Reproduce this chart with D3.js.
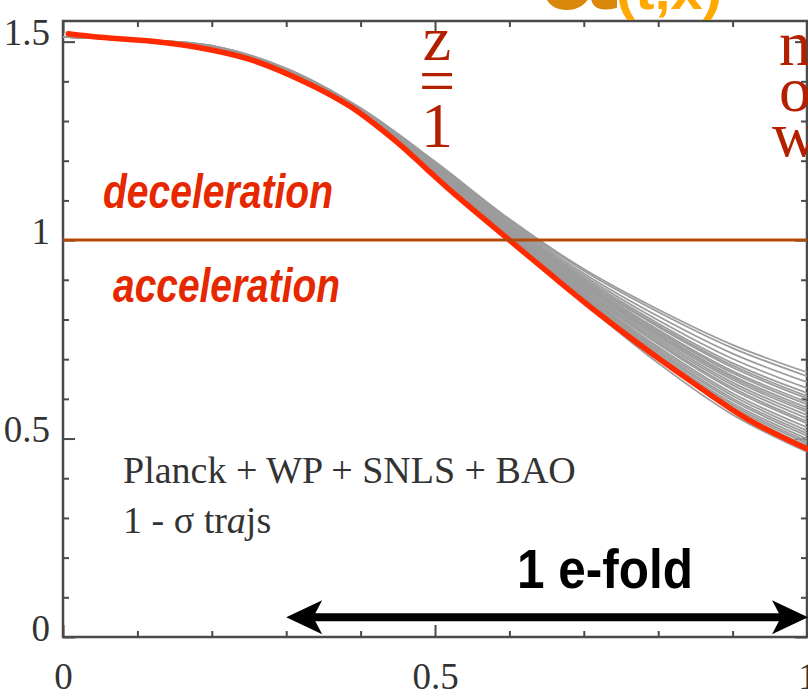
<!DOCTYPE html>
<html>
<head>
<meta charset="utf-8">
<script src="https://cdn.jsdelivr.net/npm/d3@7"></script>
<style>
  html, body { margin: 0; padding: 0; background: #fff; overflow: hidden; }
  svg { display: block; }
</style>
</head>
<body>
<div id="container"></div>
<script>
// best-fit trajectory (red)
const bestX = [0.007, 0.05, 0.12, 0.18, 0.25, 0.32, 0.385, 0.45, 0.49, 0.53, 0.6, 0.655, 0.72, 0.79, 0.855, 0.92, 1];
const bestY = [1.52, 1.511, 1.501, 1.486, 1.456, 1.403, 1.338, 1.245, 1.177, 1.110, 1.0, 0.914, 0.815, 0.716, 0.63, 0.549, 0.474];

// 1-sigma trajectories (grey), sampled on xGrid
const xGrid = [0, 0.1, 0.2, 0.3, 0.4, 0.5, 0.6, 0.7, 0.8, 0.9, 1];
const trajs = [
  [1.512, 1.505, 1.490, 1.433, 1.333, 1.198, 1.053, 0.927, 0.825, 0.736, 0.667],
  [1.512, 1.505, 1.490, 1.432, 1.332, 1.196, 1.050, 0.923, 0.819, 0.728, 0.657],
  [1.512, 1.505, 1.489, 1.431, 1.331, 1.194, 1.046, 0.916, 0.808, 0.714, 0.642],
  [1.512, 1.505, 1.488, 1.430, 1.330, 1.191, 1.042, 0.910, 0.798, 0.701, 0.627],
  [1.512, 1.504, 1.488, 1.429, 1.329, 1.189, 1.039, 0.905, 0.790, 0.690, 0.615],
  [1.512, 1.504, 1.487, 1.428, 1.328, 1.187, 1.037, 0.901, 0.785, 0.684, 0.607],
  [1.512, 1.504, 1.487, 1.428, 1.328, 1.186, 1.035, 0.899, 0.781, 0.679, 0.601],
  [1.512, 1.504, 1.487, 1.427, 1.327, 1.185, 1.032, 0.895, 0.774, 0.670, 0.592],
  [1.512, 1.504, 1.486, 1.427, 1.326, 1.184, 1.031, 0.892, 0.770, 0.665, 0.586],
  [1.512, 1.504, 1.486, 1.426, 1.326, 1.182, 1.029, 0.889, 0.765, 0.658, 0.578],
  [1.512, 1.504, 1.486, 1.426, 1.325, 1.181, 1.027, 0.886, 0.761, 0.653, 0.572],
  [1.512, 1.504, 1.485, 1.425, 1.325, 1.180, 1.025, 0.884, 0.757, 0.648, 0.567],
  [1.512, 1.504, 1.485, 1.425, 1.324, 1.179, 1.023, 0.881, 0.752, 0.641, 0.559],
  [1.512, 1.504, 1.485, 1.424, 1.323, 1.178, 1.021, 0.877, 0.747, 0.635, 0.551],
  [1.512, 1.504, 1.484, 1.423, 1.323, 1.176, 1.019, 0.874, 0.742, 0.628, 0.543],
  [1.512, 1.504, 1.484, 1.423, 1.322, 1.175, 1.018, 0.871, 0.738, 0.623, 0.538],
  [1.512, 1.504, 1.484, 1.422, 1.321, 1.174, 1.015, 0.867, 0.731, 0.614, 0.528],
  [1.512, 1.504, 1.483, 1.422, 1.321, 1.172, 1.013, 0.864, 0.726, 0.608, 0.520],
  [1.512, 1.503, 1.483, 1.421, 1.320, 1.171, 1.011, 0.861, 0.721, 0.601, 0.513],
  [1.512, 1.503, 1.483, 1.421, 1.320, 1.170, 1.009, 0.858, 0.717, 0.596, 0.507],
  [1.512, 1.503, 1.482, 1.420, 1.319, 1.168, 1.007, 0.855, 0.712, 0.589, 0.499],
  [1.512, 1.503, 1.482, 1.420, 1.319, 1.167, 1.005, 0.852, 0.708, 0.584, 0.493],
  [1.512, 1.503, 1.482, 1.419, 1.318, 1.166, 1.004, 0.850, 0.704, 0.579, 0.488],
  [1.512, 1.503, 1.481, 1.419, 1.318, 1.165, 1.002, 0.847, 0.700, 0.574, 0.482],
  [1.512, 1.503, 1.481, 1.417, 1.316, 1.163, 0.998, 0.841, 0.690, 0.560, 0.466],
];

// ticks
const xTicks = [0, 0.1, 0.2, 0.3, 0.4, 0.5, 0.6, 0.7, 0.8, 0.9, 1];
const yTicks = [0, 0.1, 0.2, 0.3, 0.4, 0.5, 0.6, 0.7, 0.8, 0.9, 1, 1.1, 1.2, 1.3, 1.4, 1.5];
const xMajor = [0, 0.5, 1];
const xLabels = ['0', '0.5', '1'];
const yMajor = [0, 0.5, 1, 1.5];
const yLabels = ['0', '0.5', '1', '1.5'];

// annotations
const eFold = [0.3, 1];
const eFoldY = 0.05;

const width = 808;
const height = 696;

const x = d3.scaleLinear().domain([0, 1]).range([63, 807]);
const y = d3.scaleLinear().domain([0, 1.552]).range([637, 21]);

const svg = d3
  .select('#container')
  .append('svg')
  .attr('width', width)
  .attr('height', height);

const serif = '"Liberation Serif", "Times New Roman", serif';
const sans = '"Liberation Sans", Arial, sans-serif';
const axisColor = '#4a4a4a';

const isMajor = (list, d) => list.some(m => Math.abs(m - d) < 1e-9);
const labelOf = (list, labels, d) => {
  const i = list.findIndex(m => Math.abs(m - d) < 1e-9);
  return i < 0 ? '' : labels[i];
};

function styleAxis(g, majors, vertical) {
  g.select('.domain').remove();
  g.selectAll('.tick line')
    .attr('stroke', axisColor)
    .attr('stroke-width', 2)
    .attr(vertical ? 'x2' : 'y2', function (d) {
      const v = +d3.select(this).attr(vertical ? 'x2' : 'y2');
      return isMajor(majors, d) ? v * 2 : v;
    });
  g.attr('font-family', serif).attr('font-size', 37);
  g.selectAll('.tick text').attr('fill', '#333');
}

// bottom
svg.append('g')
  .attr('transform', `translate(0,${y(0)})`)
  .call(d3.axisBottom(x).tickValues(xTicks).tickSize(-6)
    .tickFormat(d => labelOf(xMajor, xLabels, d)))
  .call(g => styleAxis(g, xMajor, false))
  .call(g => g.selectAll('.tick text').attr('y', 52).attr('dy', 0));

// top
svg.append('g')
  .attr('transform', `translate(0,${y.range()[1]})`)
  .call(d3.axisTop(x).tickValues(xTicks).tickSize(-6).tickFormat(''))
  .call(g => styleAxis(g, xMajor, false));

// left
svg.append('g')
  .attr('transform', `translate(${x(0)},0)`)
  .call(d3.axisLeft(y).tickValues(yTicks).tickSize(-6)
    .tickFormat(d => labelOf(yMajor, yLabels, d)))
  .call(g => styleAxis(g, yMajor, true))
  .call(g => g.selectAll('.tick text').attr('x', -13).attr('dy', 3));

// right
svg.append('g')
  .attr('transform', `translate(${x(1)},0)`)
  .call(d3.axisRight(y).tickValues(yTicks).tickSize(-6).tickFormat(''))
  .call(g => styleAxis(g, yMajor, true));

// frame
svg.append('rect')
  .attr('x', x(0))
  .attr('y', y.range()[1])
  .attr('width', x(1) - x(0))
  .attr('height', y(0) - y.range()[1])
  .attr('fill', 'none')
  .attr('stroke', axisColor)
  .attr('stroke-width', 2.5);

// trajectories
const line = d3.line().curve(d3.curveCatmullRom.alpha(0.5));

svg.append('g')
  .selectAll('path')
  .data(trajs)
  .enter()
  .append('path')
  .attr('d', t => line(t.map((v, i) => [x(xGrid[i]), y(v)])))
  .attr('fill', 'none')
  .attr('stroke', '#9c9c9c')
  .attr('stroke-width', 1.8);

svg.append('path')
  .attr('d', line(bestX.map((v, i) => [x(v), y(bestY[i])])))
  .attr('fill', 'none')
  .attr('stroke', '#ff2a00')
  .attr('stroke-width', 5.5)
  .attr('stroke-linecap', 'round');

// q = 0 line
svg.append('line')
  .attr('x1', x(0))
  .attr('x2', x(1))
  .attr('y1', y(1))
  .attr('y2', y(1))
  .attr('stroke', '#b4490a')
  .attr('stroke-width', 3);

// labels
svg.append('text')
  .attr('x', 103).attr('y', 208)
  .attr('font-family', sans).attr('font-size', 48)
  .attr('font-weight', 'bold').attr('font-style', 'italic')
  .attr('textLength', 230).attr('lengthAdjust', 'spacingAndGlyphs')
  .attr('fill', '#e62800')
  .text('deceleration');

svg.append('text')
  .attr('x', 113).attr('y', 302)
  .attr('font-family', sans).attr('font-size', 48)
  .attr('font-weight', 'bold').attr('font-style', 'italic')
  .attr('textLength', 227).attr('lengthAdjust', 'spacingAndGlyphs')
  .attr('fill', '#e62800')
  .text('acceleration');

svg.append('text')
  .attr('x', 123).attr('y', 483)
  .attr('font-family', serif).attr('font-size', 38)
  .attr('fill', '#333')
  .text('Planck + WP + SNLS + BAO');

const sig = svg.append('text')
  .attr('x', 123).attr('y', 533)
  .attr('font-family', serif).attr('font-size', 38)
  .attr('fill', '#333');
sig.append('tspan').text('1 - σ tr');
sig.append('tspan').attr('font-style', 'italic').text('a');
sig.append('tspan').text('js');

// z = 1 and now, stacked letters
const darkRed = '#b22000';
function stacked(cx, letters) {
  const t = svg.append('text')
    .attr('text-anchor', 'middle')
    .attr('font-family', serif).attr('font-size', 64)
    .attr('fill', darkRed);
  letters.forEach(([c, by]) => {
    t.append('tspan').attr('x', cx).attr('y', by).text(c);
  });
}
stacked(x(0.5) + 2, [['z', 60], ['=', 102], ['1', 147]]);
stacked(795, [['n', 65], ['o', 111], ['w', 156]]);

// ä(t,x) title, cut at the top
svg.append('text')
  .attr('x', 541).attr('y', 9)
  .attr('font-family', sans).attr('font-size', 136).attr('font-weight', 'bold')
  .attr('fill', '#d9870b')
  .text('ä');
svg.append('text')
  .attr('x', 616).attr('y', 9)
  .attr('font-family', sans).attr('font-size', 54).attr('font-weight', 'bold')
  .attr('textLength', 106).attr('lengthAdjust', 'spacingAndGlyphs')
  .attr('fill', '#ffa800')
  .text('(t,x)');

// 1 e-fold arrow
const ax0 = x(eFold[0]);
const ax1 = x(eFold[1]);
const ay = y(eFoldY);
const headL = 36;
const headW = 17;
const notch = 9;

svg.append('line')
  .attr('x1', ax0 + notch + 4).attr('x2', ax1 - notch - 4)
  .attr('y1', ay).attr('y2', ay)
  .attr('stroke', '#000')
  .attr('stroke-width', 8);

const head = (tip, dir) => {
  const p = d3.path();
  p.moveTo(tip, ay);
  p.lineTo(tip + dir * headL, ay - headW);
  p.lineTo(tip + dir * (headL - notch), ay);
  p.lineTo(tip + dir * headL, ay + headW);
  p.closePath();
  return p.toString();
};
svg.append('path').attr('d', head(ax0, 1)).attr('fill', '#000');
svg.append('path').attr('d', head(ax1 + 1, -1)).attr('fill', '#000');

svg.append('text')
  .attr('x', 517).attr('y', 588)
  .attr('font-family', sans).attr('font-size', 56).attr('font-weight', 'bold')
  .attr('textLength', 176).attr('lengthAdjust', 'spacingAndGlyphs')
  .attr('fill', '#000')
  .text('1 e-fold');
</script>
</body>
</html>
